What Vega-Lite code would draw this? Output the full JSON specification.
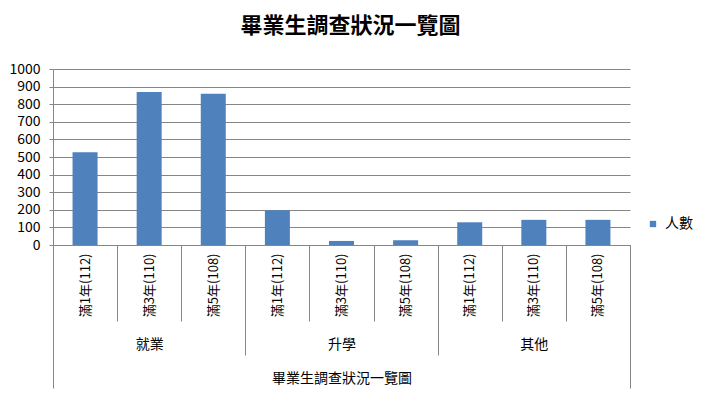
{
  "$schema": "https://vega.github.io/schema/vega-lite/v6.json",
  "autosize": "none",
  "width": 577,
  "height": 176,
  "padding": {"left": 53, "top": 69, "right": 74, "bottom": 151},
  "background": "white",
  "config": {
    "view": {"stroke": null},
    "font": "Noto Sans CJK TC",
    "axis": {"labelFont": "Noto Sans CJK TC", "labelColor": "#000000"}
  },
  "title": {
    "text": "畢業生調查狀況一覽圖",
    "fontSize": 22,
    "fontWeight": "bold",
    "color": "#000000",
    "anchor": "middle",
    "dx": 9,
    "offset": 24
  },
  "data": {
    "values": [
      {"group": "就業", "period": "滿1年(112)", "key": "就業|滿1年(112)", "all": "畢業生調查狀況一覽圖", "value": 527},
      {"group": "就業", "period": "滿3年(110)", "key": "就業|滿3年(110)", "all": "畢業生調查狀況一覽圖", "value": 869},
      {"group": "就業", "period": "滿5年(108)", "key": "就業|滿5年(108)", "all": "畢業生調查狀況一覽圖", "value": 859},
      {"group": "升學", "period": "滿1年(112)", "key": "升學|滿1年(112)", "all": "畢業生調查狀況一覽圖", "value": 198},
      {"group": "升學", "period": "滿3年(110)", "key": "升學|滿3年(110)", "all": "畢業生調查狀況一覽圖", "value": 23},
      {"group": "升學", "period": "滿5年(108)", "key": "升學|滿5年(108)", "all": "畢業生調查狀況一覽圖", "value": 27},
      {"group": "其他", "period": "滿1年(112)", "key": "其他|滿1年(112)", "all": "畢業生調查狀況一覽圖", "value": 129},
      {"group": "其他", "period": "滿3年(110)", "key": "其他|滿3年(110)", "all": "畢業生調查狀況一覽圖", "value": 143},
      {"group": "其他", "period": "滿5年(108)", "key": "其他|滿5年(108)", "all": "畢業生調查狀況一覽圖", "value": 143}
    ]
  },
  "resolve": {"scale": {"x": "independent"}, "axis": {"x": "independent"}},
  "layer": [
    {
      "mark": {"type": "bar", "width": {"band": 0.39}},
      "encoding": {
        "x": {
          "field": "key",
          "type": "nominal",
          "sort": null,
          "scale": {"paddingInner": 0, "paddingOuter": 0},
          "axis": {
            "orient": "bottom",
            "title": null,
            "labelExpr": "split(datum.label, '|')[1]",
            "labelAngle": -90,
            "labelAlign": "right",
            "labelBaseline": "middle",
            "labelPadding": -68,
            "labelFontSize": 13,
            "tickBand": "extent",
            "tickSize": 76,
            "tickColor": "#868686",
            "domainColor": "#868686",
            "grid": false,
            "labelOverlap": false
          }
        },
        "y": {
          "field": "value",
          "type": "quantitative",
          "scale": {"domain": [0, 1000], "nice": false},
          "axis": {
            "title": null,
            "values": [0, 100, 200, 300, 400, 500, 600, 700, 800, 900, 1000],
            "format": "d",
            "grid": true,
            "gridColor": "#868686",
            "gridWidth": 1,
            "tickSize": 4,
            "tickColor": "#868686",
            "domainColor": "#868686",
            "labelPadding": 9,
            "labelFontSize": 14,
            "labelOverlap": false
          }
        },
        "color": {
          "datum": "人數",
          "scale": {"range": ["#4f81bd"]},
          "legend": {
            "title": null,
            "orient": "none",
            "legendX": 593,
            "legendY": 148,
            "padding": 0,
            "symbolType": "square",
            "symbolSize": 40,
            "symbolStrokeWidth": 0,
            "labelFontSize": 14,
            "labelOffset": 5,
            "labelColor": "#000000"
          }
        }
      }
    },
    {
      "mark": {"type": "point", "opacity": 0},
      "encoding": {
        "x": {
          "field": "group",
          "type": "nominal",
          "sort": null,
          "scale": {"paddingInner": 0, "paddingOuter": 0},
          "axis": {
            "orient": "bottom",
            "offset": 0,
            "title": null,
            "domain": false,
            "labelAngle": 0,
            "labelAlign": "center",
            "labelBaseline": "middle",
            "labelPadding": -11,
            "labelFontSize": 14,
            "tickBand": "extent",
            "tickSize": 110,
            "tickColor": "#868686",
            "grid": false
          }
        }
      }
    },
    {
      "mark": {"type": "point", "opacity": 0},
      "encoding": {
        "x": {
          "field": "all",
          "type": "nominal",
          "scale": {"paddingInner": 0, "paddingOuter": 0},
          "axis": {
            "orient": "bottom",
            "offset": 0,
            "title": null,
            "domain": false,
            "labelAngle": 0,
            "labelAlign": "center",
            "labelBaseline": "middle",
            "labelPadding": -10,
            "labelFontSize": 14,
            "tickBand": "extent",
            "tickSize": 143,
            "tickColor": "#868686",
            "grid": false
          }
        }
      }
    }
  ]
}
